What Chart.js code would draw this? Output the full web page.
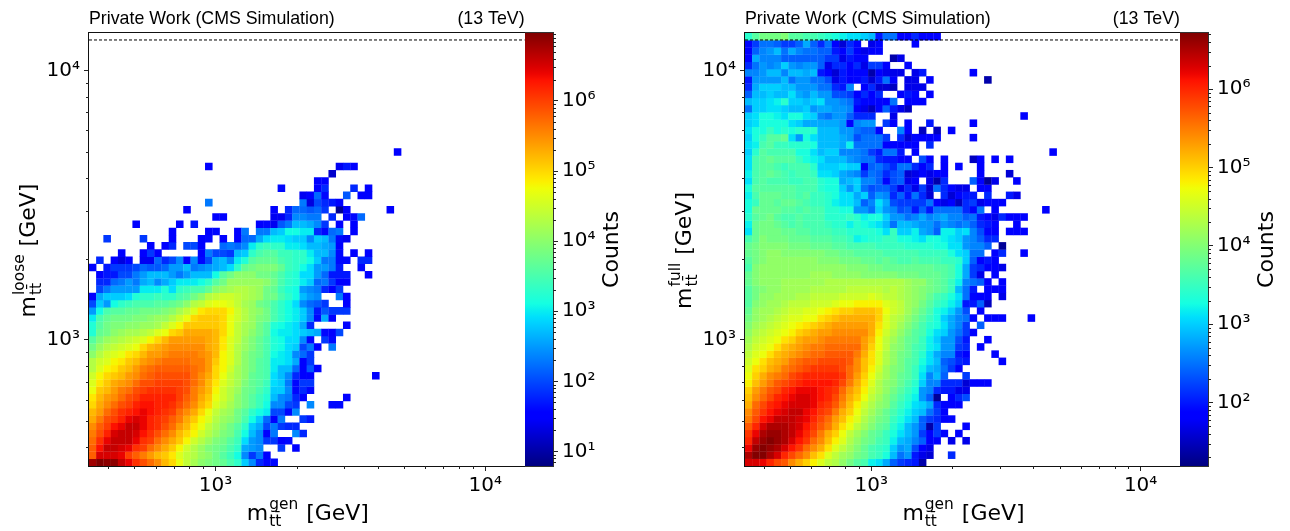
<!DOCTYPE html>
<html>
<head>
<meta charset="utf-8">
<title>mtt resolution</title>
<script src="https://cdn.jsdelivr.net/npm/chart.js@4"></script>
<style>
  html, body { margin: 0; background: #fff; }
  #page { position: relative; width: 1290px; height: 531px; overflow: hidden; }
  canvas { position: absolute; top: 0; }
</style>
</head>
<body>
<div id="page">
  <canvas id="looseMap" width="530" height="531" style="left:0"></canvas>
  <canvas id="looseBar" width="120" height="531" style="left:525px"></canvas>
  <canvas id="fullMap" width="530" height="531" style="left:656px"></canvas>
  <canvas id="fullBar" width="110" height="531" style="left:1180px"></canvas>
</div>
<script>
// histogram axes
const BIN_COUNT = 60;
const X_RANGE = [340, 14000];
const Y_RANGE = [340, 13800];
const OVERFLOW_LINE = 13000;

const MAJOR_TICKS = [1000, 10000];
const MAJOR_LABELS = ['10³', '10⁴'];
const MINOR_TICKS = [400, 500, 600, 700, 800, 900, 2000, 3000, 4000, 5000, 6000, 7000, 8000, 9000];

const HEADER_LEFT = 'Private Work (CMS Simulation)';
const HEADER_RIGHT = '(13 TeV)';
const BAR_LABEL = 'Counts';

const LOOSE_BAR_RANGE = [6.2, 9.3e6];
const FULL_BAR_RANGE = [15.5, 5.2e6];
const BAR_TICKS = [1e1, 1e2, 1e3, 1e4, 1e5, 1e6];
const BAR_TICK_LABELS = ['10¹', '10²', '10³', '10⁴', '10⁵', '10⁶'];
const BAR_MINOR_STEPS = [2, 3, 4, 5, 6, 7, 8, 9];

// cell contents as 10*log10(counts), 0 = empty. rows run bottom to top, columns left to right
const looseRows = [
  [68,70,69,69,66,64,61,59,57,55, 52,50,47,44,42,40,39,38,37,35, 33,28,24,18,16,16],
  [58,65,65,65,64,60,58,56,54,52, 51,49,46,44,43,41,40,38,36,34, 31,24,19,23,15],
  [58,63,66,66,65,64,61,60,57,55, 53,51,48,45,43,41,39,38,37,35, 33,26,25,24,0,0,19,0,15],
  [57,61,64,66,66,66,64,61,60,57, 55,53,51,48,45,43,41,39,38,36, 34,29,25,24,19,19,15,16],
  [56,59,62,65,66,66,65,63,61,59, 57,55,52,50,48,45,43,41,39,38, 35,31,27,24,15,23,0,0,24,18],
  [55,58,60,63,64,66,66,64,62,61, 59,57,54,52,49,47,44,42,40,38, 36,33,28,26,20,23,19,18,18],
  [53,56,59,60,62,64,65,64,62,61, 60,58,56,53,51,48,46,43,41,40, 38,35,31,28,22,15,23,0,0,19,17],
  [52,54,57,59,61,62,63,64,63,62, 61,60,57,55,53,50,47,44,42,41, 38,36,33,31,30,20,20,16,24],
  [50,53,55,57,59,60,62,63,63,62, 62,61,59,57,55,52,50,46,44,42, 40,38,36,34,31,24,24,20,19,0,24,0,0,16,16],
  [49,52,54,55,57,59,60,62,62,62, 62,62,60,58,56,53,51,47,45,43, 40,38,36,34,32,27,24,23,18,15,0,0,0,0,0,15],
  [47,51,52,54,56,57,59,60,61,61, 61,61,60,59,56,54,52,48,45,43, 41,38,37,35,33,28,28,24,16,18,16],
  [46,49,51,53,54,55,57,59,59,60, 60,60,60,59,57,55,52,49,46,44, 42,39,37,36,34,29,28,23,16,19,19],
  [45,48,50,51,52,54,55,57,58,59, 59,59,59,59,57,55,53,50,47,44, 42,40,37,36,35,29,27,24,18,15,15,0,0,0,0,0,0,0,0,15],
  [43,46,48,49,51,52,54,56,57,58, 58,58,58,58,57,56,54,50,48,45, 42,40,38,36,35,30,27,27,22,15,21,15],
  [43,45,46,48,49,51,52,54,55,56, 57,57,57,57,56,56,54,51,48,46, 43,40,38,36,35,30,30,29,26,15,19],
  [40,43,45,46,47,49,50,52,54,54, 55,56,56,56,56,55,54,52,48,46, 43,40,38,37,35,31,30,29,24,22,19],
  [38,41,43,44,45,46,47,50,52,53, 54,55,55,55,55,55,53,52,49,46, 43,41,39,37,35,32,31,29,28,20,23,15,0,23],
  [36,39,41,42,43,44,45,46,48,50, 52,54,54,54,54,54,53,52,49,46, 44,41,39,37,35,32,31,29,29,24,16,0,19,16],
  [32,37,38,40,41,42,42,43,44,46, 47,50,51,53,53,53,53,52,50,47, 44,42,40,38,36,31,30,30,29,28,27,26,16,15,20],
  [32,36,38,39,39,40,40,41,41,42, 44,46,48,51,51,51,51,51,50,47, 44,42,41,38,36,32,31,30,29,26,18,0,0,0,0,15],
  [30,35,37,38,38,38,39,39,40,41, 41,43,45,47,50,51,51,51,50,47, 45,43,41,39,38,35,33,31,30,28,24,16,26,15],
  [25,31,35,36,36,37,37,38,38,38, 39,40,42,44,46,49,50,50,50,48, 45,43,41,40,38,35,33,31,30,28,24,17,21,19,19,19],
  [20,28,25,31,33,34,35,35,35,36, 36,37,38,40,43,44,46,47,47,46, 44,42,41,38,37,35,33,31,29,24,22,21,19,0,0,15],
  [15,26,28,28,28,29,32,33,33,34, 33,33,35,36,38,40,43,44,45,45, 44,43,42,41,38,38,35,33,31,27,25,24,0,0,23,15],
  [0,20,23,25,25,25,25,30,30,30, 32,29,33,34,35,35,37,40,41,42, 43,43,42,41,38,37,34,32,31,25,24,23,18,15,19],
  [0,18,18,22,23,25,23,26,27,24, 26,28,30,30,30,31,33,36,38,41, 41,41,41,41,40,38,35,33,32,30,28,22,23,19,15,15],
  [0,15,17,17,20,20,23,25,27,27, 27,25,23,25,27,27,27,31,36,38, 40,40,40,38,38,37,35,33,32,29,29,25,22,17,17,17,0,0,15],
  [15,0,17,19,19,19,20,22,21,21, 22,25,25,27,23,24,25,26,27,29, 33,37,38,39,39,39,37,34,33,31,29,25,25,23,17,0,0,16],
  [0,18,0,15,13,15,0,14,14,22, 18,20,24,15,24,16,20,26,27,24, 30,32,36,37,37,37,35,34,33,33,31,28,23,23,16,16,0,18,18],
  [0,0,0,0,15,0,0,15,19,15, 0,0,0,0,0,15,23,20,20,19, 27,28,33,35,36,36,34,34,33,33,30,27,27,24,16,0,15,0,15],
  [0,0,0,0,0,0,0,0,15,0, 15,18,0,20,20,15,0,0,22,23, 22,24,30,33,34,33,33,30,30,29,27,27,26,25,15],
  [0,0,19,0,0,0,0,19,0,0, 0,15,0,0,0,15,16,0,15,0, 15,22,22,26,29,30,30,29,28,28,24,28,27,23,16,14],
  [0,0,0,0,0,0,0,0,0,0, 0,15,0,0,0,0,15,16,0,0, 15,23,0,23,23,27,28,31,31,30,30,18,16,22,23,0,15],
  [0,0,0,0,0,0,15,0,0,0, 0,0,15,0,17,0,0,0,0,0, 0,0,0,15,16,14,21,23,27,27,26,24,19,0,15,0,15],
  [0,0,0,0,0,0,0,0,0,0, 0,0,0,0,0,0,0,15,15,0, 0,0,0,0,0,14,14,18,24,24,23,23,0,18,0,15,16,22],
  [0,0,0,0,0,0,0,0,0,0, 0,0,0,15,0,0,0,0,0,0, 0,0,0,0,0,15,0,18,22,22,21,22,19,0,9,15,0,0,0,0,0,15],
  [0,0,0,0,0,0,0,0,0,0, 0,0,0,0,0,0,23,0,0,0, 0,0,0,0,0,0,0,0,0,23,13,20,18,17,15],
  [0,0,0,0,0,0,0,0,0,0, 0,0,0,0,0,0,0,0,0,0, 0,0,0,0,0,0,0,0,0,14,15,22,16,0,0,21,0,15,15],
  [0,0,0,0,0,0,0,0,0,0, 0,0,0,0,0,0,0,0,0,0, 0,0,0,0,0,0,16,0,0,0,0,15,18,0,0,0,18,0,15],
  [0,0,0,0,0,0,0,0,0,0, 0,0,0,0,0,0,0,0,0,0, 0,0,0,0,0,0,0,0,0,0,0,15,15],
  [0,0,0,0,0,0,0,0,0,0, 0,0,0,0,0,0,0,0,0,0, 0,0,0,0,0,0,0,0,0,0,0,0,0,12],
  [0,0,0,0,0,0,0,0,0,0, 0,0,0,0,0,0,15,0,0,0, 0,0,0,0,0,0,0,0,0,0,0,0,0,0,14,17,15],
  [],
  [0,0,0,0,0,0,0,0,0,0, 0,0,0,0,0,0,0,0,0,0, 0,0,0,0,0,0,0,0,0,0,0,0,0,0,0,0,0,0,0,0,0,0,15],
];

const fullRows = [
  [63,63,62,60,58,57,54,52,50,48, 46,44,43,41,39,37,36,32,31,28, 24,22,21,20,14],
  [65,67,67,65,63,60,58,56,54,51, 49,46,44,42,41,39,38,36,35,33, 29,25,27,20,17,16,0,0,21],
  [62,66,67,66,65,63,61,59,56,54, 52,49,46,44,42,40,38,36,35,34, 30,27,28,23,18,17],
  [60,64,66,67,66,65,63,61,59,56, 54,51,48,46,43,41,39,38,36,35, 32,29,28,26,24,18,18,0,17,0,17],
  [59,62,65,66,66,65,64,62,60,58, 55,52,50,47,44,42,40,38,37,35, 33,31,29,27,22,18,22,18,0,18],
  [57,60,63,65,65,65,64,63,61,59, 57,55,52,49,47,44,42,40,38,37, 34,32,29,27,24,14,22,0,0,0,18],
  [55,58,61,62,64,64,64,63,62,60, 58,56,53,51,48,46,43,41,39,38, 35,33,31,29,24,22,21,18,19],
  [54,57,59,61,62,63,64,64,62,61, 59,58,55,52,50,47,44,42,40,38, 36,34,32,30,29,25,22,18],
  [52,56,58,60,61,62,63,63,63,62, 60,59,57,54,51,48,45,43,41,40, 37,35,33,31,30,28,21,18,18,18],
  [51,54,56,58,60,61,62,63,63,62, 61,60,58,55,52,50,47,44,42,40, 38,36,34,32,27,24,13,0,18,21,23],
  [50,53,55,57,58,60,61,62,62,62, 61,60,59,56,53,51,48,45,43,41, 39,37,35,33,27,26,21,20,20,17,17],
  [48,51,53,55,57,58,59,60,61,61, 61,61,60,58,55,52,49,46,43,41, 40,38,36,34,30,26,26,21,21,21,16,18,18,18],
  [47,50,52,54,55,56,58,59,60,60, 60,60,60,59,56,53,50,47,44,42, 40,38,37,35,31,26,29,24,0,0,22],
  [46,49,50,52,53,55,56,57,58,59, 59,59,59,58,56,54,51,48,45,42, 40,39,37,35,32,29,28,25,22,18],
  [45,47,49,51,52,53,55,56,57,57, 58,58,58,58,57,54,51,49,46,43, 41,39,37,36,33,31,29,24,23,21,20,0,0,0,0,18],
  [44,46,47,49,51,52,53,54,55,56, 56,57,57,57,57,55,52,49,46,43, 41,39,38,36,34,31,28,26,26,20,18,0,0,0,18],
  [43,45,46,47,49,51,52,53,54,55, 55,56,56,56,56,56,53,50,47,44, 41,40,38,36,35,32,31,27,27,22,21,0,18],
  [42,44,45,46,47,49,50,52,53,53, 54,55,55,55,55,55,53,51,47,44, 42,40,38,37,35,32,30,27,27,23,20,0,0,18],
  [41,43,44,45,46,47,48,50,51,52, 53,53,54,54,54,54,54,52,48,45, 43,41,39,37,36,33,31,30,27,25,22,18],
  [40,42,43,44,45,46,47,48,49,50, 51,52,53,53,53,53,53,52,49,46, 44,42,40,38,36,34,33,31,28,26,22,0,24],
  [39,41,42,43,44,45,46,46,47,47, 49,50,51,52,52,52,52,52,50,46, 44,43,41,39,37,35,33,30,28,26,25,18,0,18,18,18,0,0,0,18],
  [38,41,42,42,43,44,45,45,46,46, 47,48,49,50,50,51,51,51,50,47, 45,44,42,40,38,36,33,32,30,27,23,0,18],
  [37,40,41,42,42,43,44,44,44,45, 45,45,46,47,47,48,48,48,48,46, 45,44,42,41,39,37,35,34,32,30,20,20,24,15],
  [37,39,41,41,42,42,42,43,43,44, 44,44,44,45,45,45,45,46,45,44, 44,43,42,41,40,38,36,35,33,31,25,19,18,18,0,17],
  [37,39,40,41,41,42,42,42,42,43, 43,43,43,43,44,44,44,44,44,43, 44,43,42,41,40,39,38,37,35,29,25,20,0,18,18,18],
  [38,40,41,41,41,42,42,42,42,42, 42,43,43,43,43,43,43,43,43,43, 43,43,42,41,41,39,38,37,35,32,26,25,24,18,0,18],
  [38,40,41,41,41,41,41,41,41,42, 42,42,41,41,41,41,40,40,40,40, 40,39,39,39,38,38,38,37,36,33,28,22,17,0,18],
  [36,40,41,41,41,41,41,41,41,41, 41,41,41,41,40,40,40,39,39,38, 38,38,38,38,38,38,37,37,36,33,28,22,21,18,18,17],
  [37,39,40,41,41,41,41,41,41,41, 40,40,40,39,39,39,38,38,37,38, 37,36,36,37,36,36,36,35,35,34,30,24,18,20,18],
  [38,39,40,41,41,40,40,40,40,40, 40,39,39,38,38,37,37,37,37,36, 36,36,36,36,35,35,35,35,33,31,30,25,25,0,18,21,0,0,18],
  [38,39,40,40,40,40,39,39,39,38, 38,38,37,37,36,36,36,36,35,35, 35,35,34,34,34,34,33,33,31,31,27,26,26,24,0,13],
  [36,38,40,39,39,39,38,38,38,37, 37,37,36,36,35,32,33,34,34,35, 35,33,33,32,31,33,33,32,31,30,27,26,24,21,21],
  [31,38,39,39,39,38,38,37,37,36, 36,36,35,35,34,34,34,34,33,31, 35,30,30,32,28,27,24,32,32,30,31,26,23,19,18,0,18,18,18],
  [32,38,39,39,38,37,36,37,36,36, 36,35,34,34,32,34,33,32,31,29, 25,29,29,28,27,27,25,27,26,25,26,24,21,20,19,0,0,18],
  [34,37,38,39,37,36,36,37,36,36, 36,34,34,34,35,34,32,33,33,30, 27,27,25,26,28,26,27,28,26,26,24,25,20,19,17,21,18,18,18],
  [33,38,38,38,38,37,37,36,37,36, 36,34,34,33,33,27,27,25,30,27, 26,23,24,20,24,20,25,25,25,25,21,19,25,0,18,0,0,0,0,0, 0,18],
  [33,35,38,38,37,38,38,37,36,35, 35,34,32,31,31,29,24,26,31,28, 23,22,22,22,22,25,19,17,18,15,21,22,17,19,19,18],
  [32,36,38,38,38,37,37,36,37,35, 35,34,33,31,31,28,30,24,27,26, 21,24,20,25,21,16,0,21,16,19,20,20,0,21,0,0,20,17],
  [33,37,37,37,37,37,37,36,36,36, 34,33,33,30,27,30,25,23,24,24, 22,17,21,17,22,16,25,21,19,17,17,0,18,18],
  [31,36,37,36,36,36,35,35,36,36, 34,33,33,28,29,30,26,26,24,19, 23,24,17,18,0,17,14,21,0,0,0,24,18,13,17,0,0,18],
  [32,36,37,38,37,36,35,36,36,35, 31,31,30,28,27,26,22,25,24,21, 23,24,16,17,19,17,18,18,0,0,0,0,18,0,0,0,16],
  [31,36,37,37,36,35,36,36,36,34, 30,30,30,31,30,30,18,24,25,23, 21,25,25,21,18,21,0,18,0,19,0,0,18],
  [31,36,37,38,37,37,37,35,33,32, 31,29,29,29,27,26,25,25,21,20, 20,19,19,0,23,18,0,19,0,0,0,15,18,0,18,0,18],
  [30,34,37,36,36,36,36,33,33,31, 29,30,30,26,26,26,25,22,20,25, 25,20,0,18,0,0,0,0,0,0,0,0,0,0,0,0,0,0,0,0, 0,0,18],
  [31,32,36,37,35,35,34,34,34,33, 29,29,29,28,32,25,25,25,25,18, 18,18,19,18,0,21],
  [30,33,35,37,37,38,31,27,33,31, 29,29,29,28,27,23,25,25,25,22, 0,21,16,19,18,18,18,0,0,0,0,18],
  [31,33,33,35,33,34,33,34,34,34, 29,29,29,27,27,25,24,24,18,0, 0,26,18,0,15,0,15,0,18],
  [30,31,33,33,33,33,31,30,28,28, 28,28,28,27,18,26,27,27,0,22, 18,0,18,0,0,20,0,0,0,0,0,18],
  [30,31,33,33,32,31,33,33,31,30, 26,25,27,27,24,21,21,21,0,0, 17,0,0,0,0,0,0,0,0,0,0,0,0,0,0,0,0,0,18],
  [25,30,30,31,31,30,29,29,30,27, 28,28,27,27,26,18,17,15,19,24, 20,17,15],
  [29,30,30,31,32,34,30,30,29,30, 31,27,27,26,25,20,19,19,19,18, 25,0,18,18,18],
  [24,29,29,30,29,29,31,28,27,29, 27,27,23,23,22,18,21,18,21,0, 0,18,20,19,0,18],
  [21,28,30,30,30,29,29,27,27,27, 25,25,21,20,26,0,18,21,16,16, 15,0,17,17,17],
  [20,27,27,27,27,29,25,27,27,25, 25,23,17,20,18,19,20,16,20,25, 18,0,17,17,0,18,0,0,0,0, 0,0,0,14],
  [26,26,27,29,29,26,29,29,28,29, 20,18,16,20,18,19,19,14,18,17, 17,17,0,17,20,0,0,0,0,0, 0,18],
  [21,25,27,26,27,30,27,26,27,27, 24,17,21,21,18,21,17,22,22,18, 0,0,19],
  [18,28,26,26,26,24,24,24,24,24, 24,22,22,17,20,19,19,0,0,0, 14,17],
  [18,24,26,27,29,25,28,26,25,25, 24,24,20,18,22,18,17,18,19],
  [19,22,25,25,24,22,22,24,28,24, 21,25,18,16,21,19,0,17,19,0, 0,0,0,18],
  [34,37,39,39,39,40,37,37,36,36, 35,34,33,32,31,31,30,29,20,25, 25,18,18,21,18,18,18],
];

// matplotlib jet, t in 0..1
function interp(t, xs, ys) {
  for (let i = 1; i < xs.length; i++) {
    if (t <= xs[i]) return ys[i - 1] + (ys[i] - ys[i - 1]) * (t - xs[i - 1]) / (xs[i] - xs[i - 1]);
  }
  return ys[ys.length - 1];
}
function jet(t) {
  t = Math.min(1, Math.max(0, t));
  const r = interp(t, [0, 0.35, 0.66, 0.89, 1], [0, 0, 1, 1, 0.5]);
  const g = interp(t, [0, 0.125, 0.375, 0.64, 0.91, 1], [0, 0, 1, 1, 0, 0]);
  const b = interp(t, [0, 0.11, 0.34, 0.65, 1], [0.5, 1, 1, 0, 0]);
  return `rgb(${Math.round(r * 255)},${Math.round(g * 255)},${Math.round(b * 255)})`;
}

function buildCells(rows) {
  const xStep = Math.pow(X_RANGE[1] / X_RANGE[0], 1 / BIN_COUNT);
  const yStep = Math.pow(Y_RANGE[1] / Y_RANGE[0], 1 / BIN_COUNT);
  const cells = [];
  rows.forEach((row, r) => row.forEach((level, c) => {
    if (!level) return;
    cells.push({
      x: X_RANGE[0] * Math.pow(xStep, c + 0.5),
      y: Y_RANGE[0] * Math.pow(yStep, r + 0.5),
      counts: Math.pow(10, level / 10),
    });
  }));
  return cells;
}

function shortTicks(ctx, scale, values, side) {
  ctx.strokeStyle = '#222';
  ctx.lineWidth = 1;
  ctx.beginPath();
  values.forEach(v => {
    if (v < scale.min || v > scale.max) return;
    const p = Math.round(scale.getPixelForValue(v)) + 0.5;
    const area = scale.chart.chartArea;
    if (side === 'bottom') { ctx.moveTo(p, area.bottom); ctx.lineTo(p, area.bottom + 3); }
    if (side === 'left') { ctx.moveTo(area.left, p); ctx.lineTo(area.left - 3, p); }
    if (side === 'right') { ctx.moveTo(area.right, p); ctx.lineTo(area.right + 3, p); }
  });
  ctx.stroke();
}

// m with stacked super/subscript followed by [GeV]
function massLabel(ctx, cx, cy, angle, sup) {
  const big = '22px "DejaVu Sans"';
  const small = '15.4px "DejaVu Sans"';
  ctx.save();
  ctx.translate(cx, cy);
  ctx.rotate(angle);
  ctx.fillStyle = '#000';
  ctx.textBaseline = 'alphabetic';
  ctx.textAlign = 'left';
  ctx.font = big;
  const mW = ctx.measureText('m').width;
  const tailW = ctx.measureText(' [GeV]').width;
  ctx.font = small;
  const blockW = Math.max(ctx.measureText(sup).width, ctx.measureText('tt̄').width);
  const x = -(mW + blockW + tailW) / 2;
  ctx.font = big;
  ctx.fillText('m', x, 7);
  ctx.font = small;
  ctx.fillText(sup, x + mW + 1, -4);
  ctx.fillText('tt̄', x + mW + 1, 13);
  ctx.font = big;
  ctx.fillText(' [GeV]', x + mW + blockW + 2, 7);
  ctx.restore();
}

const mapDecor = {
  id: 'mapDecor',
  afterDraw(chart, args, opts) {
    const { ctx, chartArea: a, scales } = chart;
    ctx.save();
    ctx.strokeStyle = '#111';
    ctx.lineWidth = 1;
    ctx.strokeRect(Math.round(a.left) - 0.5, Math.round(a.top) - 0.5, Math.round(a.width) + 1, Math.round(a.height) + 1);
    shortTicks(ctx, scales.x, MINOR_TICKS, 'bottom');
    shortTicks(ctx, scales.y, MINOR_TICKS, 'left');
    ctx.fillStyle = '#000';
    ctx.font = '17.8px "Liberation Sans"';
    ctx.textBaseline = 'alphabetic';
    ctx.textAlign = 'left';
    ctx.fillText(HEADER_LEFT, a.left, 24);
    ctx.textAlign = 'right';
    ctx.fillText(HEADER_RIGHT, a.right, 24);
    massLabel(ctx, (a.left + a.right) / 2, 513, 0, 'gen');
    massLabel(ctx, opts.yLabelX, (a.top + a.bottom) / 2 + 2, -Math.PI / 2, opts.yLabel);
    ctx.restore();
  },
};

const barDecor = {
  id: 'barDecor',
  afterDraw(chart) {
    const { ctx, chartArea: a, scales } = chart;
    const minor = [];
    [1, 10, 100, 1e3, 1e4, 1e5, 1e6].forEach(d => BAR_MINOR_STEPS.forEach(m => minor.push(d * m)));
    ctx.save();
    ctx.strokeStyle = '#333';
    ctx.lineWidth = 1;
    ctx.strokeRect(Math.round(a.left) - 0.5, Math.round(a.top) - 0.5, Math.round(a.width) + 1, Math.round(a.height) + 1);
    shortTicks(ctx, scales.y, minor, 'right');
    ctx.translate(a.right + 59, (a.top + a.bottom) / 2);
    ctx.rotate(-Math.PI / 2);
    ctx.fillStyle = '#000';
    ctx.font = '22px "DejaVu Sans"';
    ctx.textAlign = 'center';
    ctx.textBaseline = 'middle';
    ctx.fillText(BAR_LABEL, 0, 0);
    ctx.restore();
  },
};

function drawMap(id, rows, barRange, yLabel, yLabelX) {
  const logMin = Math.log10(barRange[0]);
  const logSpan = Math.log10(barRange[1]) - logMin;
  const tickOpts = {
    font: { family: '"DejaVu Sans"', size: 20 },
    color: '#000',
    autoSkip: false,
    maxRotation: 0,
    callback: v => MAJOR_LABELS[MAJOR_TICKS.indexOf(v)] || '',
  };
  const gridOpts = { drawOnChartArea: false, drawTicks: true, tickLength: 5, color: '#222' };
  new Chart(document.getElementById(id), {
    type: 'scatter',
    data: {
      datasets: [
        {
          data: [{ x: X_RANGE[0], y: OVERFLOW_LINE }, { x: X_RANGE[1], y: OVERFLOW_LINE }],
          showLine: true,
          borderColor: '#000',
          borderWidth: 1,
          borderDash: [3, 2],
          pointRadius: 0,
        },
        {
          data: buildCells(rows),
          pointStyle: 'rect',
          borderWidth: 0,
          pointRadius: c => ((c.chart.width - 94) / BIN_COUNT + 0.3) * Math.SQRT1_2,
          backgroundColor: c => jet((Math.log10(c.raw.counts) - logMin) / logSpan),
        },
      ],
    },
    options: {
      responsive: false,
      animation: false,
      events: [],
      layout: { padding: { top: 33, right: id === 'looseMap' ? 5 : 6, left: 0, bottom: 0 } },
      plugins: {
        legend: { display: false },
        tooltip: { enabled: false },
        mapDecor: { yLabel, yLabelX },
      },
      scales: {
        x: {
          type: 'logarithmic',
          min: X_RANGE[0],
          max: X_RANGE[1],
          grid: gridOpts,
          border: { display: false },
          ticks: { ...tickOpts, padding: 3 },
          afterBuildTicks: s => { s.ticks = MAJOR_TICKS.map(value => ({ value })); },
          afterFit: s => { s.height = 65; },
        },
        y: {
          type: 'logarithmic',
          min: Y_RANGE[0],
          max: Y_RANGE[1],
          grid: gridOpts,
          border: { display: false },
          ticks: { ...tickOpts, padding: 4 },
          afterBuildTicks: s => { s.ticks = MAJOR_TICKS.map(value => ({ value })); },
          afterFit: s => { s.width = 89; },
        },
      },
    },
    plugins: [mapDecor],
  });
}

function drawBar(id, barRange) {
  const canvas = document.getElementById(id);
  new Chart(canvas, {
    type: 'bar',
    data: {
      labels: [BAR_LABEL],
      datasets: [{
        data: [barRange],
        barPercentage: 1,
        categoryPercentage: 1,
        borderWidth: 0,
        backgroundColor: c => {
          const a = c.chart.chartArea;
          if (!a) return '#000';
          const g = c.chart.ctx.createLinearGradient(0, a.bottom, 0, a.top);
          for (let i = 0; i <= 64; i++) g.addColorStop(i / 64, jet(i / 64));
          return g;
        },
      }],
    },
    options: {
      responsive: false,
      animation: false,
      events: [],
      layout: { padding: { top: 33, bottom: 65, left: 0, right: 0 } },
      plugins: { legend: { display: false }, tooltip: { enabled: false } },
      scales: {
        x: { display: false },
        y: {
          type: 'logarithmic',
          position: 'right',
          min: barRange[0],
          max: barRange[1],
          grid: { drawOnChartArea: false, tickLength: 5, color: '#222' },
          border: { display: false },
          ticks: {
            font: { family: '"DejaVu Sans"', size: 20 },
            color: '#000',
            padding: 4,
            autoSkip: false,
            callback: v => BAR_TICK_LABELS[BAR_TICKS.indexOf(v)] || '',
          },
          afterBuildTicks: s => {
            s.ticks = BAR_TICKS.filter(v => v >= barRange[0]).map(value => ({ value }));
          },
          afterFit: s => { s.width = canvas.width - 28; },
        },
      },
    },
    plugins: [barDecor],
  });
}

drawMap('looseMap', looseRows, LOOSE_BAR_RANGE, 'loose', 28);
drawBar('looseBar', LOOSE_BAR_RANGE);
drawMap('fullMap', fullRows, FULL_BAR_RANGE, 'full', 28);
drawBar('fullBar', FULL_BAR_RANGE);
</script>
</body>
</html>
